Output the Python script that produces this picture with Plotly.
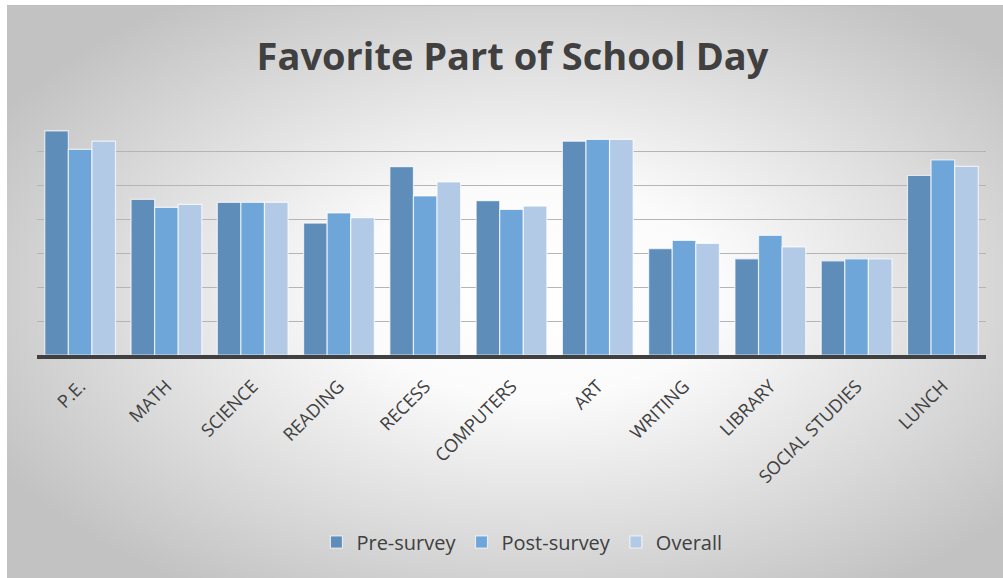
import base64
import plotly.graph_objects as go

categories = ["P.E.", "MATH", "SCIENCE", "READING", "RECESS", "COMPUTERS", "ART",
              "WRITING", "LIBRARY", "SOCIAL STUDIES", "LUNCH"]
pre_survey = [6.59, 4.58, 4.49, 3.88, 5.54, 4.54, 6.29, 3.13, 2.83, 2.77, 5.28]
post_survey = [6.05, 4.34, 4.49, 4.18, 4.68, 4.28, 6.34, 3.37, 3.52, 2.83, 5.74]
overall = [6.29, 4.43, 4.49, 4.04, 5.09, 4.38, 6.34, 3.28, 3.18, 2.83, 5.55]

series_names = ["Pre-survey", "Post-survey", "Overall"]
series_colors = ["#5f8dba", "#6ea6da", "#b3cae7"]

W, H = 1003, 578
L, R, T, B = 37, 17, 117, 223
pw, ph = W - L - R, H - T - B

svg = f'''<svg xmlns="http://www.w3.org/2000/svg" width="{W}" height="{H}" viewBox="0 0 {W} {H}" preserveAspectRatio="none">
<defs><radialGradient id="g" cx="53%" cy="50%" r="62%">
<stop offset="0%" stop-color="#ffffff"/>
<stop offset="30%" stop-color="#fbfbfb"/>
<stop offset="100%" stop-color="#c2c2c2"/>
</radialGradient></defs>
<rect x="0" y="0" width="{W}" height="{H}" fill="#ffffff"/>
<rect x="7" y="5" width="{W-7}" height="{H-5}" fill="url(#g)"/>
<line x1="7" y1="5.5" x2="{W}" y2="5.5" stroke="#bdbdbd" stroke-width="1"/>
</svg>'''
src = "data:image/svg+xml;base64," + base64.b64encode(svg.encode()).decode()

fig = go.Figure()
for name, vals, col in zip(series_names, [pre_survey, post_survey, overall], series_colors):
    fig.add_trace(go.Bar(
        x=categories, y=vals, name=name,
        marker=dict(color=col, line=dict(color="rgba(255,255,255,0.7)", width=1.2)),
    ))

fig.add_layout_image(dict(
    source=src, xref="paper", yref="paper",
    x=-L / pw, y=1 + T / ph, sizex=W / pw, sizey=H / ph,
    xanchor="left", yanchor="top", sizing="stretch", layer="below",
))

fig.update_layout(
    width=W, height=H,
    margin=dict(l=L, r=R, t=T, b=B),
    paper_bgcolor="white",
    plot_bgcolor="rgba(0,0,0,0)",
    barmode="group",
    bargap=0.18,
    bargroupgap=0.0,
    title=dict(text="<b>Favorite Part of School Day</b>", x=0.511, xanchor="center",
               y=1 - 57 / H, yanchor="middle",
               font=dict(family="Open Sans", size=38, color="#404040")),
    font=dict(family="Open Sans", color="#404040"),
    legend=dict(orientation="h", x=0.511, xanchor="center", y=-(542 - 355) / ph,
                yanchor="middle", font=dict(size=20, color="#404040"),
                bgcolor="rgba(0,0,0,0)", itemwidth=30),
    xaxis=dict(showline=True, linecolor="#404040", linewidth=3.5, tickangle=-45,
               tickfont=dict(size=18, color="#404040"), ticks="", showgrid=False,
               ticklabelstandoff=10),
    yaxis=dict(range=[0, 7], dtick=1, showticklabels=False, gridcolor="#b5b5b5",
               gridwidth=1.2, zeroline=False, showline=False),
)

fig.write_html("out.html")
